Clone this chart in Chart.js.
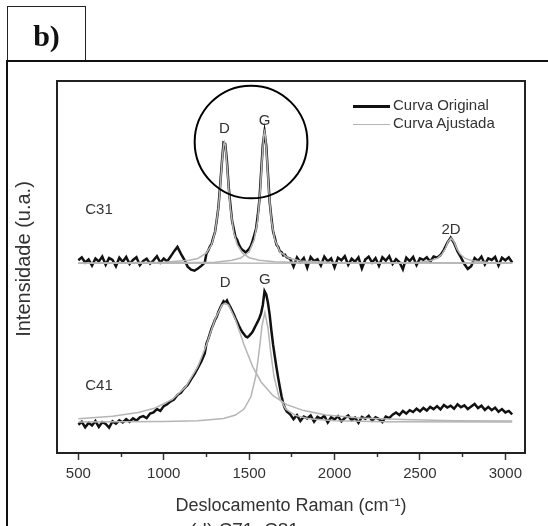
<!DOCTYPE html>
<html>
<head>
<meta charset="utf-8">
<script src="https://cdn.jsdelivr.net/npm/chart.js@4.4.0/dist/chart.umd.min.js"></script>
<style>
  html, body { margin: 0; padding: 0; background: #fff; }
  body { width: 548px; height: 526px; position: relative; overflow: hidden; font-family: "Liberation Sans", Arial, sans-serif; color: #333; }
  #spectra { position: absolute; left: 0; top: 0; }
  .tag { position: absolute; left: 7px; top: 6px; width: 79px; height: 56px; box-sizing: border-box; border: 1.5px solid #222; border-bottom: none; font: bold 30px "Liberation Serif", "Times New Roman", serif; color: #111; text-align: center; line-height: 58px; }
  .rule-top { position: absolute; left: 6px; top: 60px; width: 542px; border-top: 2px solid #111; }
  .rule-left { position: absolute; left: 6px; top: 60px; height: 470px; border-left: 2.5px solid #111; }
  .ytitle { position: absolute; left: 23px; top: 259px; transform: translate(-50%, -50%) rotate(-90deg); white-space: nowrap; font-size: 20px; }
  .legend { position: absolute; left: 353px; top: 96px; font-size: 15px; }
  .legend div { height: 18px; line-height: 18px; white-space: nowrap; }
  .legend span { display: inline-block; width: 37px; margin-right: 3px; vertical-align: middle; }
  .legend .orig { border-top: 3px solid #111; }
  .legend .fit { border-top: 1.5px solid #b5b5b5; }
  .caption { position: absolute; left: 190px; top: 520px; font-size: 19px; line-height: 20px; white-space: nowrap; }
</style>
</head>
<body>
<canvas id="spectra" width="548" height="526"></canvas>
<div class="tag">b)</div>
<div class="rule-top"></div>
<div class="rule-left"></div>
<div class="ytitle">Intensidade (u.a.)</div>
<div class="legend">
  <div><span class="orig"></span>Curva Original</div>
  <div><span class="fit"></span>Curva Ajustada</div>
</div>
<div class="caption">(d) C71, C81</div>
<script>
// Raman shift (cm-1) of the measured spectra
const ramanShift = [500,520,540,560,580,600,620,640,660,680,700,720,740,760,780,800,820,840,860,880,900,920,940,960,980,1000,1020,1040,1060,1080,1100,1120,1140,1160,1180,1200,1220,1240,
  1250,1260,1270,1280,1290,1300,1310,1320,1330,1340,1350,1360,1370,1380,1390,1400,1410,1420,1430,1440,1450,1460,1470,1480,1490,1500,1510,1520,1530,1540,1550,1560,1570,1580,1590,1600,1610,1620,1630,1640,1650,1660,1670,1680,1690,1700,1710,1720,
  1740,1760,1780,1800,1820,1840,1860,1880,1900,1920,1940,1960,1980,2000,2020,2040,2060,2080,2100,2120,2140,2160,2180,2200,2220,2240,2260,2280,2300,2320,2340,2360,2380,2400,2420,2440,2460,2480,2500,2520,2540,2560,2580,2600,2620,2640,2660,2680,2700,2720,2740,2760,2780,2800,2820,2840,2860,2880,2900,2920,2940,2960,2980,3000,3020,3040];

// measured intensity (offset, a.u.)
const c31Original = [51.8,52.6,51.2,52.0,50.4,52.3,51.5,52.8,50.6,52.4,51.9,50.2,52.5,51.4,52.7,50.8,51.9,52.6,50.5,51.6,52.2,50.9,51.8,52.9,51.2,52.3,51.5,52.8,54.2,55.4,53.6,52.0,50.1,49.3,49.0,49.6,50.3,51.2,
  53.6,54.4,55.5,56.2,57.9,59.4,62.5,66.0,71.8,77.9,83.4,83.1,78.5,71.6,66.8,62.4,60.3,58.0,57.3,56.0,55.2,54.6,54.3,53.9,54.4,54.9,55.7,57.0,58.6,60.2,63.7,68.0,75.4,82.8,86.3,82.7,75.1,67.6,63.3,59.6,57.9,56.0,55.4,54.2,54.0,53.1,53.3,52.6,
  52.2,50.1,52.6,51.3,52.4,49.8,52.7,51.6,52.1,50.4,52.8,51.5,52.3,49.9,52.5,51.8,52.9,50.6,52.2,51.4,52.6,49.6,52.0,52.8,51.2,52.4,50.3,52.6,51.7,52.9,50.8,52.1,51.3,49.4,52.5,51.6,52.7,50.5,52.3,51.9,52.6,51.4,52.8,52.5,53.2,54.6,56.5,57.9,56.4,54.2,52.6,50.8,49.5,50.2,52.4,51.6,52.8,50.7,52.3,51.9,52.7,50.4,52.5,51.8,52.6,51.2];
const c41Original = [7.6,8.4,6.9,8.1,7.4,8.6,7.0,8.3,7.8,6.8,8.5,7.9,8.8,8.2,9.1,8.4,9.3,8.7,9.6,9.9,9.4,10.6,10.9,11.8,11.3,12.6,13.1,13.9,14.4,15.6,16.2,17.4,18.3,19.8,21.2,22.9,24.6,26.8,
  29.4,30.6,32.0,33.5,34.6,35.8,36.6,37.9,39.0,39.9,40.8,40.4,41.0,40.0,39.2,38.3,37.3,36.2,35.2,34.2,33.3,32.5,31.9,31.3,31.1,31.5,32.0,32.6,33.5,34.4,35.3,36.3,37.6,39.8,43.5,42.6,40.4,37.2,33.0,29.2,26.0,23.0,20.2,17.6,15.2,13.2,12.0,11.2,
  10.4,9.1,10.2,8.6,9.8,9.3,10.1,8.4,9.7,9.2,10.0,8.2,9.6,9.0,9.9,8.5,9.4,10.1,8.8,9.5,8.1,9.7,9.2,10.0,8.7,9.6,9.1,8.3,9.8,9.4,10.3,10.9,10.2,11.3,10.6,11.5,11.0,11.9,11.2,12.1,11.4,12.4,11.8,12.6,11.7,12.9,12.2,12.7,11.9,13.1,12.3,12.8,11.8,12.5,13.2,12.1,12.7,11.6,12.4,11.5,12.2,11.1,11.8,10.9,11.3,10.4];

// fitted bands, C31
const c31DShift = [500,1000,1150,1200,1250,1280,1300,1320,1330,1340,1350,1355,1360,1370,1380,1390,1410,1430,1460,1500,1560,1650,1800,3040];
const c31DFit = [51.0,51.3,51.8,52.3,53.8,56.0,59.3,65.8,71.2,77.7,82.8,83.6,82.8,77.7,71.2,65.8,59.3,56.0,53.8,52.5,51.8,51.4,51.2,51.0];
const c31GShift = [500,1000,1300,1400,1450,1500,1530,1550,1565,1575,1585,1590,1595,1605,1615,1630,1650,1680,1730,1800,2000,3040];
const c31GFit = [51.0,51.1,51.3,51.8,52.4,54.1,57.3,62.6,70.6,78.4,85.2,86.3,85.2,78.4,70.6,62.6,57.3,54.1,52.4,51.6,51.2,51.0];
const c31G2Shift = [500,2400,2500,2560,2600,2630,2650,2665,2682,2700,2715,2735,2765,2805,2900,3040];
const c31G2Fit = [51.0,51.1,51.3,51.7,52.3,53.5,55.1,56.8,57.8,56.7,55.0,53.5,52.3,51.7,51.2,51.0];

// fitted bands, C41
const c41DShift = [500,700,850,950,1050,1130,1200,1250,1300,1340,1360,1380,1420,1470,1520,1570,1640,1720,1820,1950,2150,2400,2700,3040];
const c41DFit = [9.2,9.9,10.9,12.1,14.4,17.9,23.3,29.1,35.9,39.7,40.3,39.7,35.9,29.1,23.3,19.1,15.4,13.0,11.4,10.2,9.4,9.0,8.7,8.6];
const c41GShift = [500,1000,1200,1350,1420,1470,1510,1540,1560,1575,1592,1610,1625,1645,1675,1715,1770,1850,2000,2300,3040];
const c41GFit = [8.35,8.5,8.7,9.3,10.2,11.8,15.1,20.9,27.9,34.1,37.8,33.7,27.5,20.7,15.0,11.8,10.1,9.2,8.7,8.4,8.3];

// x axis ticks
const majorTicks = [500,1000,1500,2000,2500,3000];
const minorTicks = [750,1250,1750,2250,2750];

// annotations (data coordinates)
const sampleLabels = [['C31', 621, 65.3], ['C41', 621, 18.0]];
const bandLabels = [['D', 1355, 87.1], ['G', 1590, 89.2], ['2D', 2682, 59.9], ['D', 1360, 45.7], ['G', 1592, 46.5]];
const circleCenter = [1511, 83.6];
const circleRadius = 330;

const pts = (xs, ys) => xs.map((v, i) => ({ x: v, y: ys[i] }));

const FONT = '"Liberation Sans", Arial, sans-serif';
const BLACK = '#111';
const GRAY = '#b5b5b5';

const line = (data, color, width, order) => ({
    data,
    borderColor: color,
    borderWidth: width,
    pointRadius: 0,
    fill: false,
    tension: 0,
    order,
});

const decorations = {
    id: 'decorations',
    afterDatasetsDraw(chart) {
        const { ctx, chartArea: a, scales: { x, y } } = chart;
        ctx.save();
        // plot frame
        ctx.strokeStyle = '#222';
        ctx.lineWidth = 2;
        ctx.strokeRect(a.left, a.top, a.right - a.left, a.bottom - a.top);
        // circle around D and G bands
        const cx = x.getPixelForValue(circleCenter[0]);
        const cy = y.getPixelForValue(circleCenter[1]);
        const r = x.getPixelForValue(circleCenter[0] + circleRadius) - cx;
        ctx.strokeStyle = '#000';
        ctx.beginPath();
        ctx.arc(cx, cy, r, 0, Math.PI * 2);
        ctx.stroke();
        // text labels
        ctx.fillStyle = '#333';
        ctx.textAlign = 'center';
        ctx.textBaseline = 'middle';
        ctx.font = '15px ' + FONT;
        sampleLabels.concat(bandLabels).forEach(([t, vx, vy]) => {
            ctx.fillText(t, x.getPixelForValue(vx), y.getPixelForValue(vy));
        });
        ctx.restore();
    },
};

new Chart(document.getElementById('spectra'), {
    type: 'line',
    data: {
        datasets: [
            line(pts(ramanShift, c31Original), BLACK, 2.5, 2),
            line(pts(ramanShift, c41Original), BLACK, 2.5, 2),
            line(pts(c31DShift, c31DFit), GRAY, 1.5, 1),
            line(pts(c31GShift, c31GFit), GRAY, 1.5, 1),
            line(pts(c31G2Shift, c31G2Fit), GRAY, 1.5, 1),
            line(pts(c41DShift, c41DFit), GRAY, 1.5, 1),
            line(pts(c41GShift, c41GFit), GRAY, 1.5, 1),
        ],
    },
    options: {
        responsive: false,
        animation: false,
        layout: { padding: { left: 57, top: 81, right: 23, bottom: 0 } },
        plugins: { legend: { display: false }, tooltip: { enabled: false } },
        scales: {
            x: {
                type: 'linear',
                min: 375,
                max: 3115,
                afterBuildTicks: (s) => { s.ticks = majorTicks.map((v) => ({ value: v })); },
                afterFit: (s) => { s.height = 73; },
                border: { display: false },
                grid: { drawOnChartArea: false, tickLength: 7, tickWidth: 1.5, tickColor: '#333' },
                ticks: {
                    autoSkip: false,
                    maxRotation: 0,
                    padding: 5,
                    color: '#333',
                    font: { family: FONT, size: 15 },
                    callback: (v) => String(v),
                },
                title: {
                    display: true,
                    text: 'Deslocamento Raman (cm⁻¹)',
                    color: '#333',
                    font: { family: FONT, size: 18 },
                    padding: { top: 0, bottom: 9 },
                },
            },
            // short minor ticks hanging from the bottom of the frame
            xMinor: {
                type: 'linear',
                axis: 'x',
                position: { y: 0 },
                min: 375,
                max: 3115,
                afterBuildTicks: (s) => { s.ticks = minorTicks.map((v) => ({ value: v })); },
                border: { display: false },
                grid: { drawOnChartArea: false, tickLength: 4, tickWidth: 1.5, tickColor: '#333' },
                ticks: { display: false },
            },
            y: { display: false, min: 0, max: 100 },
        },
    },
    plugins: [decorations],
});
</script>
</body>
</html>
